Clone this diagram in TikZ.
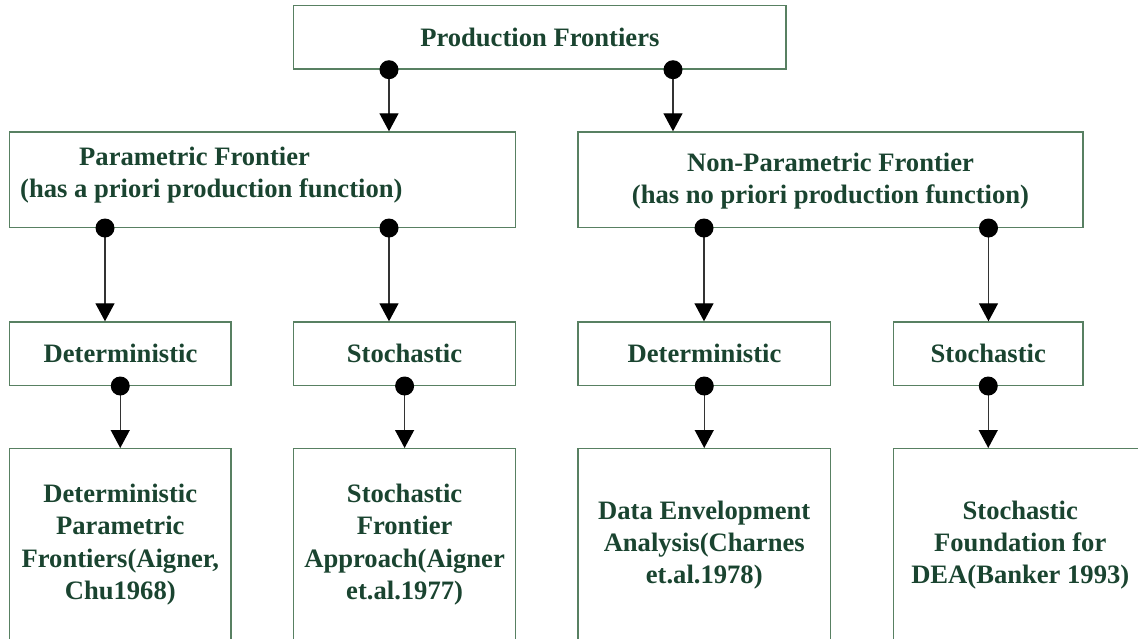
\documentclass[tikz,border=0pt]{standalone}
\usepackage{fontspec}
\setmainfont{Liberation Serif}
\usetikzlibrary{arrows.meta}
\definecolor{txtgreen}{RGB}{26,68,48}
\definecolor{boxgreen}{RGB}{88,128,98}
\begin{document}
\begin{tikzpicture}[x=1pt,y=-1pt,
  box/.style={draw=boxgreen, line width=1.4pt, rectangle, inner sep=0pt},
  lbl/.style={text=txtgreen, font=\bfseries\fontsize{26.6}{32.2}\selectfont,
              align=center, inner sep=0pt, anchor=base},
  conn/.style={draw=black!80, line width=1.3pt,
               -{Triangle[width=19pt,length=18pt,color=black,fill=black]}},
  dotmark/.style={circle, fill=black, minimum size=19pt, inner sep=0pt}]

\useasboundingbox (0,0) rectangle (1138,638);
\clip (0,0) rectangle (1138,638);

% boxes
\node[box, minimum width=492.3pt, minimum height=63.3pt] (top)  at (539.85,37.35) {};
\node[box, minimum width=506pt,   minimum height=95.3pt] (par)  at (262.5,179.65) {};
\node[box, minimum width=505pt,   minimum height=95.3pt] (npar) at (830.5,179.65) {};
\node[box, minimum width=221.5pt, minimum height=63.3pt] (pdet) at (120.25,353.65) {};
\node[box, minimum width=221.8pt, minimum height=63.3pt] (psto) at (404.6,353.65) {};
\node[box, minimum width=252.5pt, minimum height=63.3pt] (ndet) at (704.25,353.65) {};
\node[box, minimum width=189.5pt, minimum height=63.3pt] (nsto) at (988.25,353.65) {};
\node[box, minimum width=221.5pt, minimum height=231.3pt] (m1) at (120.25,564.35) {};
\node[box, minimum width=221.8pt, minimum height=231.3pt] (m2) at (404.6,564.35) {};
\node[box, minimum width=252.5pt, minimum height=231.3pt] (m3) at (704.25,564.35) {};
\node[box, minimum width=253.5pt, minimum height=231.3pt] (m4) at (1020.25,564.35) {};

% labels (multi-line labels are placed by the baseline of their last line)
\node[lbl] (ttop) at (539.85,46) {Production Frontiers};
\node[lbl, anchor=base west] (tpar1) at (79,165.7) {Parametric Frontier};
\node[lbl, anchor=base west] (tpar2) at (20,197.5) {(has a priori production function)};
\node[lbl] (tnpar) at (830.5,203.5) {Non-Parametric Frontier\\(has no priori production function)};
\node[lbl] (tpdet) at (120.5,362.7) {Deterministic};
\node[lbl] (tpsto) at (404.5,362.7) {Stochastic};
\node[lbl] (tndet) at (704.5,362.7) {Deterministic};
\node[lbl] (tnsto) at (988.25,362.7) {Stochastic};
\node[lbl] (tm1) at (120.25,599.3) {Deterministic\\Parametric\\Frontiers(Aigner,\\Chu1968)};
\node[lbl] (tm2) at (404.6,599.3) {Stochastic\\Frontier\\Approach(Aigner\\et.al.1977)};
\node[lbl] (tm3) at (704.25,583.7) {Data Envelopment\\Analysis(Charnes\\et.al.1978)};
\node[lbl] (tm4) at (1020.25,583.7) {Stochastic\\Foundation for\\DEA(Banker 1993)};

% connector start points on the lower edges
\coordinate (s1) at (top.south -| 389,0);
\coordinate (s2) at (top.south -| 673,0);
\coordinate (s3) at (par.south -| 105,0);
\coordinate (s4) at (par.south -| 389,0);
\coordinate (s5) at (npar.south -| 704,0);
\coordinate (s6) at (npar.south -| 988.5,0);
\coordinate (s7) at (pdet.south);
\coordinate (s8) at (psto.south);
\coordinate (s9) at (ndet.south);
\coordinate (s10) at (nsto.south);

% connectors
\draw[conn] (s1) -- (s1 |- par.north);
\draw[conn] (s2) -- (s2 |- npar.north);
\draw[conn] (s3) -- (s3 |- pdet.north);
\draw[conn] (s4) -- (s4 |- psto.north);
\draw[conn] (s5) -- (s5 |- ndet.north);
\draw[conn] (s6) -- (s6 |- nsto.north);
\draw[conn] (s7) -- (m1.north);
\draw[conn] (s8) -- (m2.north);
\draw[conn] (s9) -- (m3.north);
\draw[conn] (s10) -- (s10 |- m4.north);

% dots
\foreach \s in {s1,s2,s3,s4,s5,s6,s7,s8,s9,s10}
  \node[dotmark] at (\s) {};
\end{tikzpicture}
\end{document}
